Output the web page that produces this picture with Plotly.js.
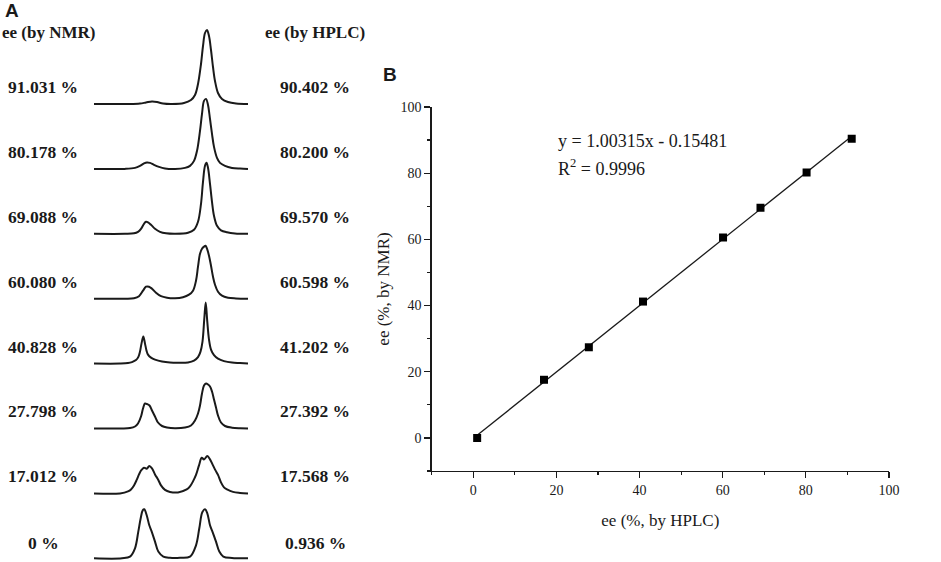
<!DOCTYPE html>
<html>
<head>
<meta charset="utf-8">
<script src="https://cdn.plot.ly/plotly-3.0.1.min.js"></script>
<style>
  html, body { margin: 0; padding: 0; background: #fff; }
  #chart { width: 941px; height: 562px; }
</style>
</head>
<body>
<div id="chart"></div>
<script>
  // panel A labels, top to bottom
  const nmrLabels = ['91.031 %', '80.178 %', '69.088 %', '60.080 %', '40.828 %', '27.798 %', '17.012 %', '0 %'];
  const hplcLabels = ['90.402 %', '80.200 %', '69.570 %', '60.598 %', '41.202 %', '27.392 %', '17.568 %', '0.936 %'];

  // panel A spectra (x in px, height above baseline in px)
  const spec1X = [94, 130, 140, 146, 152, 157, 163, 172, 184, 191, 195, 198, 201, 203, 205, 207, 209, 211, 213, 215, 218, 222, 228, 236, 248];
  const spec1H = [0, 0, 0.5, 1.5, 2.5, 2, 0.5, 0, 1, 4, 9, 20, 40, 58, 71, 74, 68, 54, 37, 23, 11, 5, 2, 0.5, 0];
  const spec2X = [94, 125, 135, 140, 144, 147, 150, 154, 159, 165, 175, 185, 190, 194, 197, 200, 202, 204, 206, 208, 210, 212, 214, 217, 220, 225, 232, 240, 248];
  const spec2H = [0, 0, 1, 3, 5.5, 6.5, 6, 4, 2, 0.5, 0, 1, 3, 8, 18, 38, 55, 68, 70, 64, 50, 35, 22, 11, 6, 3, 1, 0.3, 0];
  const spec3X = [94, 125, 134, 138, 141, 144, 146, 148, 151, 155, 160, 166, 175, 188, 194, 198, 201, 203, 205, 206.5, 208, 210, 212, 214, 217, 221, 227, 235, 248];
  const spec3H = [0, 0, 0.5, 2, 5, 10, 12, 11.5, 9, 5, 2, 0.5, 0, 1, 4, 12, 30, 52, 68, 71, 66, 50, 32, 18, 8, 3.5, 1.5, 0.3, 0];
  const spec4X = [94, 125, 134, 139, 143, 146, 149, 152, 156, 161, 167, 175, 183, 189, 193, 196, 198, 200, 202, 204, 205.5, 207, 209, 211, 213, 215, 218, 222, 228, 236, 248];
  const spec4H = [0, 0, 0.5, 2.5, 8, 12, 12, 10, 6, 2.5, 1, 0.5, 1.5, 4, 8, 18, 32, 45, 50, 52, 53, 50, 43, 33, 22, 14, 7, 3, 1, 0.3, 0];
  const spec5X = [94, 120, 128, 132, 136, 138.5, 140, 141.5, 143.3, 145, 146.5, 148, 151, 155, 162, 170, 180, 188, 194, 198, 200.5, 202.5, 204.3, 205.7, 207.2, 209, 211, 214, 218, 224, 232, 240, 248];
  const spec5H = [0, 0, 0.5, 1.5, 3.5, 7, 12, 20, 27, 20, 13, 9, 6, 4, 2, 1, 0.8, 1.2, 3, 6.5, 12, 22, 45, 61, 43, 24, 14, 8.5, 5, 2.5, 1, 0.5, 0];
  const spec6X = [94, 122, 130, 135, 138, 141, 143, 145, 147, 149.5, 152, 155, 158, 162, 167, 175, 185, 191, 195, 198, 200, 202, 204, 206, 208, 210, 212, 214, 216, 218, 221, 225, 232, 240, 248];
  const spec6H = [0, 0, 0.5, 2, 5, 12, 20, 25, 24.5, 23, 18, 12, 6, 2.5, 1, 0.3, 1, 3, 8, 15, 23, 35, 43, 45, 44, 42, 37, 29, 21, 13, 6, 2.5, 0.8, 0.2, 0];
  const spec7X = [94, 120, 128, 131, 134, 136.7, 139, 141.5, 144, 146.7, 149.3, 152, 155, 158.3, 161, 165, 170, 178, 186.7, 190, 193, 196, 199, 201.7, 204, 207.3, 210, 213, 215.5, 218, 221, 224, 227, 233, 240, 248];
  const spec7H = [0, 0, 2, 4, 8, 13.5, 19, 23.5, 25.7, 24.7, 27.3, 25, 19, 13.5, 8, 3.5, 1.5, 1, 4, 7, 12, 18.5, 28, 35.7, 34, 37.3, 34, 28, 23, 18.5, 11, 6, 4, 1.5, 0.5, 0];
  const spec8X = [94, 122, 130, 135, 138.3, 140.7, 142.7, 144.3, 146.7, 149.3, 151.7, 155, 158.3, 163.3, 170, 180, 190, 196, 199.3, 202.3, 205, 207.3, 210, 212.7, 216, 219.3, 223.3, 232, 248];
  const spec8H = [0, 0, 1.7, 10, 26.7, 40, 48, 49, 43, 33, 26.7, 16.7, 6.7, 1.7, 0.5, 0.5, 1.7, 13, 30, 46, 49, 45, 33, 26, 16.7, 6.7, 1.7, 0.3, 0];

  // panel B
  const eeHplc = [0.936, 17.012, 27.798, 40.828, 60.080, 69.088, 80.178, 91.031];
  const eeNmr = [0, 17.568, 27.392, 41.202, 60.598, 69.570, 80.200, 90.402];
  const fitSlope = 1.00315;
  const fitIntercept = -0.15481;

  const W = 941, H = 562;
  const BASE0 = 104, STEP = 64.9;
  const serif = "'Liberation Serif', 'Times New Roman', serif";
  const ink = '#1a1a1a';

  const specX = [spec1X, spec2X, spec3X, spec4X, spec5X, spec6X, spec7X, spec8X];
  const specH = [spec1H, spec2H, spec3H, spec4H, spec5H, spec6H, spec7H, spec8H];

  let data = [];
  for (let k = 0; k < specX.length; k++) {
    let base = BASE0 + k * STEP;
    data.push({
      x: specX[k],
      y: specH[k].map(function (h) { return base - h; }),
      xaxis: 'x2', yaxis: 'y2',
      mode: 'lines', type: 'scatter',
      line: { color: ink, width: 2, shape: 'spline', smoothing: 1 },
      hoverinfo: 'skip'
    });
  }

  let x0 = Math.min.apply(null, eeHplc), x1 = Math.max.apply(null, eeHplc);
  data.push({
    x: [x0, x1],
    y: [fitSlope * x0 + fitIntercept, fitSlope * x1 + fitIntercept],
    mode: 'lines', type: 'scatter',
    line: { color: ink, width: 1.3 }
  });
  data.push({
    x: eeHplc,
    y: eeNmr,
    mode: 'markers', type: 'scatter',
    marker: { symbol: 'square', size: 8, color: '#000' }
  });

  function px(x) { return x / W; }
  function py(y) { return 1 - y / H; }

  let ann = [];
  function label(text, x, y, size, family, xanchor) {
    ann.push({
      text: text, xref: 'paper', yref: 'paper', x: px(x), y: py(y),
      xanchor: xanchor || 'center', yanchor: 'middle', showarrow: false,
      font: { family: family, size: size, color: ink }
    });
  }

  label('<b>A</b>', 12, 11, 19, "'Liberation Sans', Arial, sans-serif");
  label('<b>B</b>', 390, 75, 19, "'Liberation Sans', Arial, sans-serif");
  label('<b>ee (by NMR)</b>', 0, 32, 17, serif, 'left');
  label('<b>ee (by HPLC)</b>', 315, 32, 17, serif);
  for (let k = 0; k < nmrLabels.length; k++) {
    let y = BASE0 + k * STEP - 17 + (k === 7 ? 2 : 0);
    label('<b>' + nmrLabels[k] + '</b>', 43, y, 17.5, serif);
    label('<b>' + hplcLabels[k] + '</b>', 315, y, 17.5, serif);
  }
  label('y = 1.00315x - 0.15481', 556, 141, 18, serif, 'left');
  label('R<sup>2</sup> = 0.9996', 556, 167, 18, serif, 'left');

  let axisB = {
    range: [-10, 100],
    tick0: 0, dtick: 20,
    ticks: 'outside', ticklen: 6, tickwidth: 1.2, tickcolor: ink,
    minor: { dtick: 10, ticks: 'outside', ticklen: 3, tickwidth: 1.2, tickcolor: ink },
    showline: true, linecolor: ink, linewidth: 1.3,
    showgrid: false, zeroline: false,
    tickfont: { family: serif, size: 14, color: ink },
    fixedrange: true
  };

  let layout = {
    width: W, height: H,
    margin: { l: 0, r: 0, t: 0, b: 0 },
    paper_bgcolor: '#fff',
    plot_bgcolor: 'rgba(0,0,0,0)',
    showlegend: false,
    font: { family: serif, color: ink },
    xaxis: Object.assign({}, axisB, {
      domain: [431.7 / W, 889 / W], anchor: 'y',
      title: { text: 'ee (%, by HPLC)', font: { family: serif, size: 17, color: ink }, standoff: 17 }
    }),
    yaxis: Object.assign({}, axisB, {
      domain: [1 - 471 / H, 1 - 107 / H], anchor: 'x',
      title: { text: 'ee (%, by NMR)', font: { family: serif, size: 17, color: ink }, standoff: 6 }
    }),
    xaxis2: { domain: [0, 1], range: [0, W], visible: false, anchor: 'y2', fixedrange: true },
    yaxis2: { domain: [0, 1], range: [H, 0], visible: false, anchor: 'x2', fixedrange: true },
    annotations: ann
  };

  Plotly.newPlot('chart', data, layout, { displayModeBar: false, staticPlot: true });
</script>
</body>
</html>
